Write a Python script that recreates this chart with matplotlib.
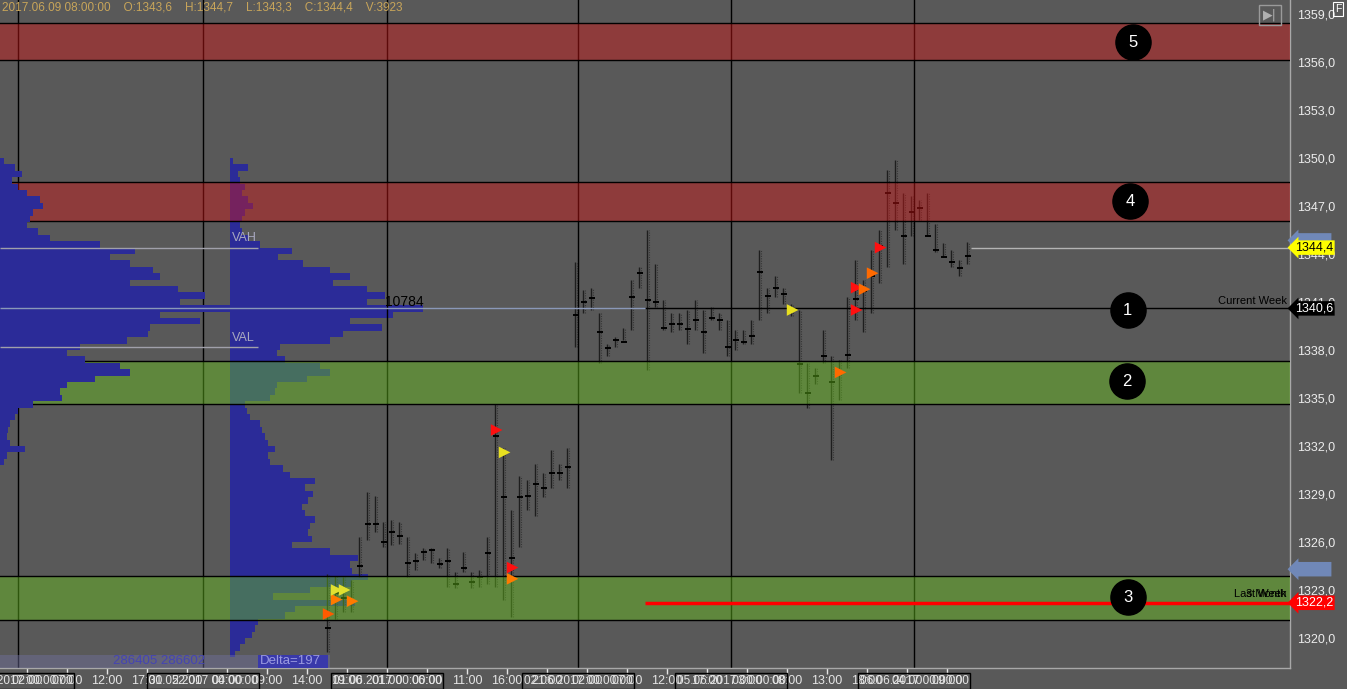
import numpy as np
import matplotlib
matplotlib.use('Agg')
import matplotlib.pyplot as plt
from matplotlib.transforms import blended_transform_factory

plt.rcParams['font.family'] = ['Liberation Sans', 'DejaVu Sans']

# ---- data ----
header = "2017.06.09 08:00:00    O:1343,6    H:1344,7    L:1343,3    C:1344,4    V:3923"

tick_pos = [5 * k for k in range(24)]
tick_labels = ["02:00", "07:00", "12:00", "17:00", "22:00", "04:00", "09:00", "14:00",
               "19:00", "01:00", "06:00", "11:00", "16:00", "21:00", "02:00", "07:00",
               "12:00", "17:00", "03:00", "08:00", "13:00", "18:00", "04:00", "09:00"]

day_x = [-1.125, 22, 45, 68.875, 88, 110.875]
day_labels = ["30.05.2017 00:00:00", "31.05.2017 00:00:00", "01.06.2017 00:00:00",
              "02.06.2017 00:00:00", "05.06.2017 00:00:00", "06.06.2017 00:00:00"]

price_ticks = [1320, 1323, 1326, 1329, 1332, 1335, 1338, 1341, 1344, 1347, 1350, 1353, 1356, 1359]

# hourly bars (first bar sits in slot 37.5)
bar_high = [1324.0, 1323.9, 1323.8, 1323.6, 1326.3, 1329.1, 1328.9, 1327.25, 1327.4, 1327.25,
            1326.3, 1325.3, 1325.6, 1325.6, 1325.0, 1325.6, 1324.1, 1325.4, 1324.1, 1324.25,
            1326.3, 1334.6, 1331.9, 1328.0, 1330.1, 1329.9, 1330.9, 1330.3, 1331.75, 1330.9,
            1331.9, 1343.5, 1341.75, 1341.9, 1340.3, 1338.4, 1338.8, 1339.4, 1342.4, 1343.2,
            1345.5, 1343.4, 1341.1, 1340.3, 1340.3, 1340.5, 1341.1, 1340.5, 1340.7, 1340.3,
            1339.9, 1339.25, 1339.25, 1339.9, 1344.25, 1341.9, 1342.6, 1341.9, 1340.9, 1340.5,
            1337.2, 1336.9, 1339.25, 1337.6, 1337.4, 1341.3, 1343.6, 1342.4, 1344.25, 1345.5,
            1349.25, 1349.9, 1347.8, 1347.6, 1347.4, 1347.8, 1345.9, 1344.7, 1344.25, 1343.6,
            1344.75]
bar_low = [1319.1, 1321.2, 1321.6, 1321.6, 1323.8, 1326.1, 1326.6, 1325.7, 1325.8, 1325.9,
           1323.8, 1324.25, 1324.9, 1324.7, 1324.4, 1323.2, 1323.1, 1324.1, 1323.1, 1323.2,
           1323.4, 1323.2, 1322.4, 1321.3, 1325.7, 1328.0, 1327.6, 1328.8, 1329.4, 1329.9,
           1329.4, 1338.2, 1340.3, 1340.5, 1337.2, 1337.6, 1338.2, 1338.6, 1339.25, 1341.9,
           1336.75, 1340.7, 1339.25, 1339.1, 1339.25, 1338.4, 1339.25, 1337.8, 1339.9, 1339.25,
           1337.6, 1338.0, 1338.4, 1338.4, 1339.9, 1340.3, 1341.3, 1340.9, 1340.1, 1335.3,
           1334.4, 1335.9, 1337.2, 1331.1, 1334.9, 1336.9, 1339.9, 1339.1, 1340.3, 1342.2,
           1343.2, 1345.5, 1343.4, 1345.1, 1346.1, 1345.1, 1344.1, 1343.8, 1343.2, 1342.6,
           1343.4]
bar_poc = [1320.6, 1322.8, 1322.5, 1322.3, 1324.5, 1327.1, 1327.1, 1326.0, 1326.6, 1326.4,
           1324.7, 1324.8, 1325.4, 1325.5, 1324.6, 1324.8, 1323.4, 1324.4, 1323.5, 1323.8,
           1325.3, 1332.6, 1328.8, 1325.0, 1328.8, 1328.9, 1329.6, 1329.4, 1330.3, 1330.3,
           1330.7, 1340.2, 1341.0, 1341.25, 1339.1, 1338.1, 1338.6, 1338.5, 1341.3, 1342.8,
           1341.1, 1341.0, 1339.4, 1339.6, 1339.6, 1339.3, 1339.9, 1339.1, 1340.0, 1339.9,
           1338.2, 1338.6, 1338.5, 1338.9, 1342.9, 1341.4, 1341.9, 1341.5, 1340.5, 1337.1,
           1335.3, 1336.4, 1337.6, 1336.0, 1336.6, 1337.7, 1341.2, 1341.7, 1342.6, 1344.5,
           1347.8, 1347.2, 1345.1, 1346.6, 1346.9, 1345.1, 1344.25, 1343.8, 1343.5, 1343.1,
           1343.9]

# imbalance markers: bar number, price, colour
mark_bar = [0, 1, 1, 2, 3, 21, 22, 23, 23, 58, 64, 66, 66, 67, 68, 69]
mark_price = [1321.5, 1322.4, 1323.0, 1323.0, 1322.3, 1333.0, 1331.6, 1324.4, 1323.7,
              1340.5, 1336.6, 1341.9, 1340.5, 1341.8, 1342.8, 1344.4]
mark_color = ['#ff5a00', '#ff7a00', '#e0e030', '#e0e030', '#ff7a00', '#ff1010', '#e8e020',
              '#ff1010', '#ff7a00', '#e8e020', '#ff6a00', '#ff1010', '#ff1010', '#ff6a00',
              '#ff6a00', '#ff1010']

# volume profiles, one row every 0.4 points from the top level down
prof_a_top = 1349.8
prof_a = [4, 15, 22, 12, 18, 27, 40, 43, 33, 30, 27, 38, 50, 100, 135, 110, 130, 153, 160, 130,
          178, 205, 180, 240, 160, 200, 150, 148, 127, 80, 67, 85, 120, 130, 95, 67, 60, 62,
          33, 18, 15, 10, 8, 7, 10, 25, 7, 4]
prof_b_top = 1349.8
prof_b = [3, 18, 8, 10, 15, 12, 18, 23, 15, 12, 10, 12, 18, 30, 62, 48, 73, 100, 120, 103,
          137, 155, 137, 193, 163, 120, 152, 113, 100, 50, 47, 55, 90, 100, 77, 47, 45, 40,
          15, 17, 20, 30, 32, 35, 38, 45, 38, 40, 53, 60, 85, 75, 83, 78, 72, 75, 85, 80,
          78, 82, 62, 100, 128, 120, 122, 138, 122, 80, 43, 125, 65, 55, 28, 25, 22, 15, 10, 5]
poc_b = 10784
vah, val, poc_price = 1344.4, 1338.2, 1340.6

# zones
zone_lo = [1356.1, 1346.06, 1334.62, 1321.12]
zone_hi = [1358.44, 1348.5, 1337.31, 1323.88]
zone_col = ['#d01818', '#d01818', '#68c11d', '#68c11d']

circle_x = [138.25, 137.9, 137.6, 137.5, 137.6]
circle_y = [1357.25, 1347.3, 1340.5, 1336.06, 1322.56]
circle_txt = ["5", "4", "1", "2", "3"]

current_week = 1340.6
last_week = 1322.2
last_price = 1344.4
blue_tag = 1324.3

# ---- figure ----
BG = '#595959'
fig = plt.figure(figsize=(13.47, 6.89), dpi=100)
fig.patch.set_facecolor(BG)
ax = fig.add_axes([0, 21 / 689, 1290 / 1347, 668 / 689])
ax.set_facecolor(BG)
x0, x1 = -27 / 8, 1263 / 8
ax.set_xlim(x0, x1)
ax.set_ylim(1318.125, 1359.875)
right_tr = blended_transform_factory(ax.transAxes, ax.transData)

# profiles
lev_a = prof_a_top - 0.4 * np.arange(len(prof_a))
ax.barh(lev_a, np.array(prof_a) / 8, left=x0, height=0.4, color='#2b2b98', lw=0, zorder=6)
lev_b = prof_b_top - 0.4 * np.arange(len(prof_b))
ax.barh(lev_b, np.array(prof_b) / 8, left=25.375, height=0.4, color='#2b2b98', lw=0, zorder=1)

# POC / value area lines
ax.hlines(poc_price, x0, 77.25, color='#8a98b8', lw=1, zorder=7)
ax.hlines([vah, val], x0, 28.9, color='#a0a0aa', lw=1, zorder=7)
ax.text(25.6, 1345.0, "VAH", color='#a8a8c0', fontsize=9, va='center', zorder=8)
ax.text(25.6, 1338.75, "VAL", color='#a8a8c0', fontsize=9, va='center', zorder=8)
ax.text(44.75, 1341.0, str(poc_b), color='black', fontsize=10, va='center', zorder=8)

# day separators
for d in day_x:
    ax.axvline(d, color='black', lw=1, zorder=2)

# price bars
bx = 37.5 + np.arange(len(bar_high))
ax.vlines(bx, bar_low, bar_high, color='#1e1e1e', lw=1.0, zorder=2)
ax.vlines(bx + 0.25, bar_low, bar_high, color='#1e1e1e', lw=0.8, alpha=0.6,
          linestyles=(0, (1, 1.2)), zorder=2)
ax.hlines(bar_poc, bx - 0.3, bx + 0.55, color='black', lw=1.4, zorder=2)

# zones drawn over bars
for lo, hi, c in zip(zone_lo, zone_hi, zone_col):
    ax.axhspan(lo, hi, facecolor=c, alpha=0.45, lw=0, zorder=3)
    ax.axhline(lo, color='black', lw=1, zorder=3)
    ax.axhline(hi, color='black', lw=1, zorder=3)

# markers
ax.scatter(37.5 + np.array(mark_bar) + 0.2, mark_price, marker='>', s=70, c=mark_color,
           lw=0, zorder=5)

# levels
ax.hlines(current_week, 77.25, x1, color='black', lw=1, zorder=4)
ax.hlines(last_week, 77.25, x1, color='#ff0000', lw=2.5, zorder=4)
ax.hlines(last_price, 118, x1, color='#b4b4b4', lw=1, zorder=4)
ax.text(0.9975, current_week + 0.45, "Current Week", transform=right_tr, ha='right',
        va='center', fontsize=8, color='black', zorder=8)
ax.text(0.9975, last_week + 0.55, "Last Week", transform=right_tr, ha='right',
        va='center', fontsize=8, color='black', zorder=8)
ax.text(0.9975, last_week + 0.55, "3 Month", transform=right_tr, ha='right',
        va='center', fontsize=8, color='black', zorder=8)

# numbered circles
ax.scatter(circle_x, circle_y, s=640, color='black', zorder=9)
for cx, cy, t in zip(circle_x, circle_y, circle_txt):
    ax.text(cx, cy, t, color='white', fontsize=12, ha='center', va='center', zorder=10)

# bottom info strip
ax.axhspan(1318.125, 1318.95, xmin=0, xmax=330 / 1290, facecolor='#7070a0', alpha=0.45, lw=0, zorder=7)
ax.axhspan(1318.125, 1318.95, xmin=258 / 1290, xmax=328 / 1290, facecolor='#3535b0', alpha=0.9, lw=0, zorder=7)
ax.text(86 / 8, 1318.55, "286405 286602", color='#4444b4', fontsize=9.5, va='center', zorder=8)
ax.text(233 / 8, 1318.55, "Delta=197", color='#9a9ae0', fontsize=9.5, va='center', zorder=8)

# axes styling
for s in ['top', 'left']:
    ax.spines[s].set_visible(False)
for s in ['right', 'bottom']:
    ax.spines[s].set_color('#a8a8a8')
    ax.spines[s].set_linewidth(1)
ax.yaxis.tick_right()
ax.set_yticks(price_ticks)
ax.set_yticklabels([f"{p},0" for p in price_ticks])
ax.tick_params(axis='y', length=0, pad=5, labelsize=9, colors='#ececec')
ax.set_xticks(tick_pos)
ax.set_xticklabels(tick_labels)
ax.tick_params(axis='x', length=4, width=1, pad=1, labelsize=9, colors='#e4e4e4')

bot_tr = blended_transform_factory(ax.transData, ax.transAxes)
for d, lab in zip(day_x, day_labels):
    ax.text(d, -0.0195, lab, transform=bot_tr, ha='center', va='center', fontsize=8.5,
            color='#e4e4e4', clip_on=False,
            bbox=dict(boxstyle='square,pad=0.15', fc='none', ec='black', lw=1))

# price tags on the axis
def tag(price, txt, fc, tc):
    ax.text(1.004, price, txt, transform=right_tr, fontsize=9, color=tc, va='center',
            ha='left', clip_on=False, zorder=10,
            bbox=dict(boxstyle='larrow,pad=0.1', fc=fc, ec='none'))

tag(last_price + 0.45, "          ", '#7088b8', 'black')
tag(blue_tag, "          ", '#7088b8', 'black')
tag(last_price, "1344,4", '#ffff00', 'black')
tag(current_week, "1340,6", 'black', 'white')
tag(last_week, "1322,2", '#ff0000', 'white')

# header and buttons
fig.text(2 / 1347, 1 - 8 / 689, header, color='#c8a55a', fontsize=8.5, va='center', ha='left')
fig.text(1270 / 1347, 1 - 15 / 689, "▶|", color='#b0b0b0', fontsize=9, ha='center', va='center',
         family='DejaVu Sans',
         bbox=dict(boxstyle='square,pad=0.3', fc='none', ec='#9a9a9a'))
fig.text(1338 / 1347, 1 - 9 / 689, "F", color='white', fontsize=7.5, ha='center', va='center',
         bbox=dict(boxstyle='square,pad=0.15', fc='none', ec='white', lw=0.8))

fig.savefig('out.png', dpi=100, facecolor=BG)
